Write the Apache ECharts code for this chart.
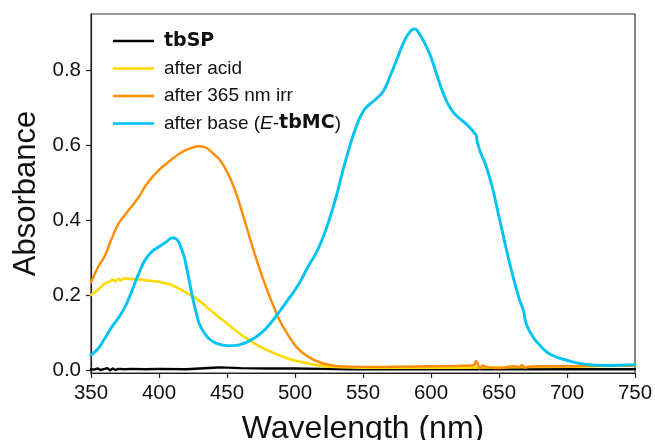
<!DOCTYPE html>
<html>
<head>
<meta charset="utf-8">
<script src="https://cdn.jsdelivr.net/npm/echarts@6/dist/echarts.min.js"></script>
<style>html,body{margin:0;padding:0;background:#fff}#c{width:655px;height:440px}</style>
</head>
<body>
<div id="c"></div>
<script>
// ---- data ----
const seriesNames = ['tbSP', 'after acid', 'after 365 nm irr', 'after base (E-tbMC)'];
const xTicks = [350, 400, 450, 500, 550, 600, 650, 700, 750];
const yTicks = [0.0, 0.2, 0.4, 0.6, 0.8];

const wlBlack  = [350,352,355,357,360,362,364,366,368,370,375,380,390,400,420,440,445,460,480,500,520,540,560,600,650,700,750];
const absBlack = [0.004,0.003,0.006,0.002,0.005,0.007,0.001,0.006,0.002,0.005,0.004,0.005,0.004,0.005,0.004,0.008,0.009,0.007,0.006,0.006,0.005,0.004,0.004,0.004,0.004,0.004,0.004];

const wlAcid  = [350,355,360,363,366,368,370,372,375,380,385,390,395,400,405,410,415,420,425,430,435,440,445,450,455,460,465,470,475,480,485,490,495,500,510,520,530,550,600,650,700,750];
const absAcid = [0.202,0.215,0.232,0.236,0.242,0.238,0.245,0.241,0.246,0.244,0.243,0.241,0.239,0.237,0.233,0.227,0.218,0.208,0.198,0.185,0.170,0.155,0.140,0.126,0.111,0.097,0.085,0.073,0.063,0.054,0.046,0.039,0.032,0.027,0.019,0.013,0.010,0.008,0.008,0.009,0.011,0.014];

const wlIrr  = [350,355,360,365,370,375,380,385,390,395,400,405,410,415,420,425,429,433,437,440,445,450,455,460,465,470,475,480,485,490,495,500,505,510,515,520,525,530,540,560,580,600,620,630,632,633,635,636,638,640,645,650,655,660,663,665,667,669,672,680,700,720,750];
const absIrr = [0.235,0.275,0.305,0.350,0.390,0.415,0.438,0.462,0.492,0.515,0.535,0.550,0.565,0.578,0.588,0.595,0.598,0.596,0.588,0.578,0.560,0.530,0.490,0.435,0.375,0.315,0.260,0.210,0.165,0.125,0.095,0.068,0.050,0.037,0.027,0.020,0.016,0.013,0.011,0.010,0.011,0.012,0.013,0.014,0.016,0.026,0.012,0.006,0.014,0.011,0.008,0.007,0.009,0.012,0.011,0.010,0.015,0.008,0.011,0.012,0.012,0.013,0.013];

const wlBase  = [350,355,360,365,370,375,380,385,390,395,400,405,410,413,415,418,420,423,425,428,430,435,440,445,450,455,460,465,470,475,480,485,490,495,500,505,510,515,520,525,530,535,540,545,550,555,560,565,570,575,580,585,588,590,595,600,605,610,615,620,625,630,632,633,634,636,637,640,645,650,655,660,665,668,670,675,680,685,690,695,700,705,710,715,720,730,740,750];
const absBase = [0.042,0.058,0.085,0.115,0.140,0.170,0.212,0.258,0.296,0.318,0.330,0.342,0.354,0.350,0.338,0.310,0.280,0.225,0.190,0.145,0.122,0.092,0.077,0.070,0.067,0.067,0.070,0.077,0.087,0.100,0.118,0.140,0.165,0.190,0.215,0.245,0.280,0.310,0.350,0.400,0.460,0.530,0.595,0.650,0.690,0.710,0.725,0.745,0.785,0.830,0.875,0.905,0.910,0.905,0.875,0.835,0.780,0.730,0.695,0.675,0.660,0.642,0.632,0.630,0.610,0.585,0.576,0.550,0.490,0.410,0.330,0.255,0.190,0.160,0.125,0.090,0.068,0.050,0.040,0.033,0.028,0.023,0.019,0.017,0.015,0.014,0.015,0.016];

const colors = ['#000000', '#FFDA00', '#FF8C00', '#00C2F4'];
const widths = [2.4, 2.6, 2.4, 2.9];

function pairs(xs, ys) { return xs.map((x, i) => [x, ys[i]]); }

const chart = echarts.init(document.getElementById('c'), null, {renderer: 'canvas'});
const dataSets = [pairs(wlBlack, absBlack), pairs(wlAcid, absAcid), pairs(wlIrr, absIrr), pairs(wlBase, absBase)];
const FONT = 'Liberation Sans, Arial, sans-serif';

chart.setOption({
  animation: false,
  grid: {left: 91, right: 20, top: 14, bottom: 67, show: true, borderColor: '#333', borderWidth: 1.2,
    backgroundColor: 'transparent', outerBoundsMode: 'none', containLabel: false},
  legend: {
    orient: 'vertical', left: 108, top: 26,
    icon: 'rect', itemWidth: 41, itemHeight: 2.5, itemGap: 7.5,
    data: seriesNames,
    textStyle: {fontFamily: FONT, fontSize: 19, color: '#111', lineHeight: 20, padding: [0, 0, 0, 5],
      rich: {
        b: {fontFamily: 'DejaVu Sans', fontWeight: 'bold', fontSize: 19, color: '#111', lineHeight: 20},
        i: {fontFamily: FONT, fontStyle: 'italic', fontSize: 19, color: '#111', lineHeight: 20},
        n: {fontFamily: FONT, fontSize: 19, color: '#111', lineHeight: 20}
      }
    },
    formatter: function (name) {
      if (name === 'tbSP') return '{b|tbSP}';
      if (name === 'after base (E-tbMC)') return '{n|after base (}{i|E}{n|-}{b|tbMC}{n|)}';
      return name;
    }
  },
  xAxis: {
    type: 'value', min: 350, max: 750, interval: 50,
    name: 'Wavelength (nm)', nameLocation: 'middle', nameGap: 40,
    nameTextStyle: {fontFamily: FONT, fontSize: 32, color: '#111'},
    axisLine: {show: true, onZero: false, lineStyle: {color: '#222', width: 1.2}},
    axisTick: {show: true, length: 5, lineStyle: {color: '#222', width: 1.2}},
    axisLabel: {fontFamily: FONT, fontSize: 20.5, color: '#111', margin: 10},
    splitLine: {show: false}
  },
  yAxis: {
    type: 'value', min: -0.006, max: 0.95,
    name: 'Absorbance', nameLocation: 'middle', nameGap: 49,
    nameTextStyle: {fontFamily: FONT, fontSize: 31, color: '#111'},
    axisLine: {show: true, onZero: false, lineStyle: {color: '#222', width: 1.2}},
    axisTick: {show: true, length: 5, customValues: yTicks, lineStyle: {color: '#222', width: 1.2}},
    axisLabel: {fontFamily: FONT, fontSize: 20.5, color: '#111', margin: 10,
      customValues: yTicks, formatter: v => v.toFixed(1)},
    splitLine: {show: false}
  },
  series: seriesNames.map((n, i) => ({
    name: n, type: 'line', data: dataSets[i], symbol: 'none', showSymbol: false,
    smooth: i === 0 ? false : 0.5,
    lineStyle: {color: colors[i], width: widths[i], cap: 'round', join: 'round'},
    itemStyle: {color: colors[i]},
    z: 2 + i
  }))
});
</script>
</body>
</html>
